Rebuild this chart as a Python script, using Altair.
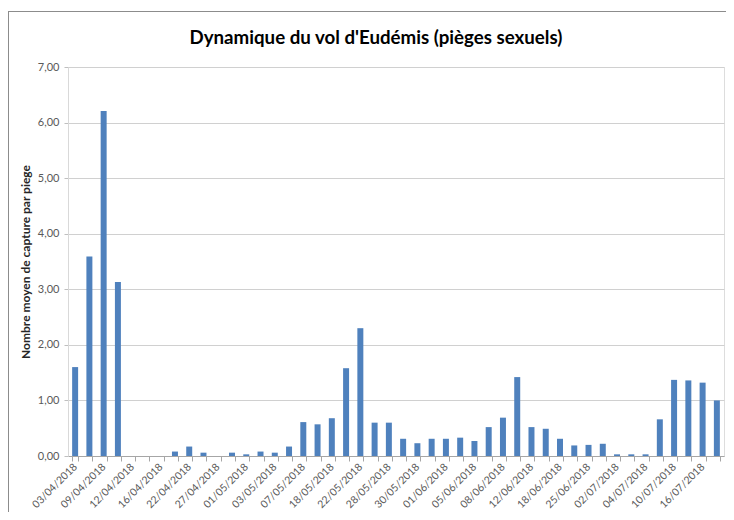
import json
import altair as alt
import pandas as pd

chart_title = "Dynamique du vol d'Eudémis (pièges sexuels)"

# Every other category is labelled on the axis (as in the source chart)
date_labels = ["03/04/2018", "09/04/2018", "12/04/2018", "16/04/2018", "22/04/2018",
               "27/04/2018", "01/05/2018", "03/05/2018", "07/05/2018", "18/05/2018",
               "22/05/2018", "28/05/2018", "30/05/2018", "01/06/2018", "05/06/2018",
               "08/06/2018", "12/06/2018", "18/06/2018", "25/06/2018", "02/07/2018",
               "04/07/2018", "10/07/2018", "16/07/2018"]

captures = [1.60, 3.59, 6.21, 3.13, 0, 0, 0, 0.08, 0.17, 0.06,
            0, 0.06, 0.03, 0.08, 0.06, 0.17, 0.61, 0.57, 0.68, 1.58,
            2.30, 0.60, 0.60, 0.31, 0.23, 0.31, 0.31, 0.33, 0.27, 0.52,
            0.69, 1.42, 0.52, 0.49, 0.31, 0.19, 0.20, 0.22, 0.03, 0.03,
            0.03, 0.66, 1.37, 1.36, 1.32, 1.00]

y_ticks = [0, 1, 2, 3, 4, 5, 6, 7]

df = pd.DataFrame({"idx": list(range(len(captures))), "val": captures})

W, H = 656, 389
FONT = "Lato"
label_expr = (f"datum.value % 2 == 0 ? {json.dumps(date_labels)}[datum.value / 2] : ''")

bars = alt.Chart(df).mark_bar(color="#4f81bd").encode(
    x=alt.X("idx:O",
            scale=alt.Scale(paddingInner=0.58, paddingOuter=0.29),
            axis=alt.Axis(title=None, labelExpr=label_expr, labelAngle=-45,
                          labelAlign="right", labelBaseline="middle",
                          labelFont=FONT, labelFontSize=10.5, labelColor="#595959",
                          labelPadding=4, labelOverlap=False,
                          tickBand="extent", tickSize=5, tickColor="#a6a6a6",
                          domainColor="#a6a6a6", grid=False)),
    y=alt.Y("val:Q",
            scale=alt.Scale(domain=[0, 7], nice=False),
            axis=alt.Axis(title="Nombre moyen de capture par piege", values=y_ticks,
                          labelExpr="replace(format(datum.value, '.2f'), '.', ',')",
                          labelFont=FONT, labelFontSize=11, labelColor="#595959",
                          labelPadding=5, tickSize=4, tickColor="#bfbfbf",
                          domainColor="#d9d9d9", gridColor="#d0d0d0",
                          titleFont=FONT, titleFontSize=12, titleFontWeight="bold",
                          titleColor="#262626", titlePadding=5)),
)

title_text = alt.Chart(alt.Data(values=[{"t": chart_title}])).mark_text(
    font=FONT, fontSize=18.7, fontWeight="bold", color="black",
    align="center", baseline="middle").encode(
    text="t:N", x=alt.value(308), y=alt.value(-29))

frame_v = alt.Chart(alt.Data(values=[{}])).mark_rule(color="#8c8c8c", strokeWidth=1).encode(
    x=alt.value(-59.5), y=alt.value(-55.5), y2=alt.value(450))
frame_h = alt.Chart(alt.Data(values=[{}])).mark_rule(color="#8c8c8c", strokeWidth=1).encode(
    x=alt.value(-60), x2=alt.value(660), y=alt.value(-55.5))

chart = alt.layer(bars, title_text, frame_v, frame_h).properties(
    width=W, height=H,
    autosize=alt.AutoSizeParams(type="none"),
    padding={"left": 60, "top": 59, "right": 2, "bottom": 56},
).configure_view(stroke=None).configure(background="white")

chart.save("out.html", embed_options={"renderer": "svg", "actions": False})
